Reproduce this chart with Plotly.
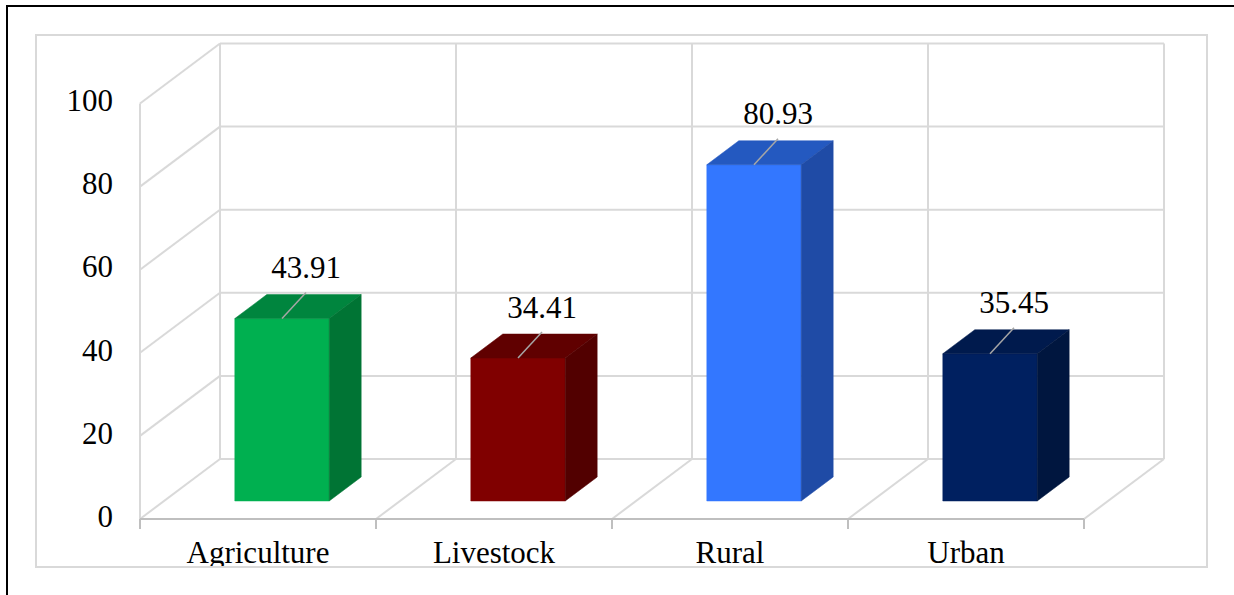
import plotly.graph_objects as go

# ---- data -------------------------------------------------------------
categories = ["Agriculture", "Livestock", "Rural", "Urban"]
values = [43.91, 34.41, 80.93, 35.45]
y_ticks = [0, 20, 40, 60, 80, 100]

front_colors = ["#00B050", "#800000", "#3377FF", "#002060"]
top_colors = ["#00853E", "#600000", "#2459C0", "#001A4D"]
side_colors = ["#007434", "#520000", "#1F4BA6", "#00163F"]

# ---- 3D-look projection (oblique view of a category/value/depth box) ----
W, H = 1234, 595
X0, Y0 = 140.0, 519.0      # front-left corner of the floor
CAT_W = 236.0              # width of one category slot
VAL_PX = 4.155             # vertical size of one value unit
DEPTH_DX, DEPTH_DY = 80.0, 60.0   # shift from front plane to back wall
BAR_LO, BAR_HI = 0.3, 0.7  # bar extent inside a slot (width and depth)
Y_MAX = 100

FONT = "Liberation Serif, Times New Roman, serif"
GRID = "#D9D9D9"
AXIS = "#BFBFBF"


def proj(c, v, d):
    """Map (category position, value, depth 0..1) to screen units."""
    return X0 + c * CAT_W + d * DEPTH_DX, Y0 - v * VAL_PX - d * DEPTH_DY


fig = go.Figure()


def add_line(points, color, width):
    xs = [p[0] for p in points]
    ys = [p[1] for p in points]
    fig.add_trace(go.Scatter(x=xs, y=ys, mode="lines",
                             line=dict(color=color, width=width),
                             hoverinfo="skip", showlegend=False))


def add_face(points, color):
    xs = [p[0] for p in points] + [points[0][0]]
    ys = [p[1] for p in points] + [points[0][1]]
    fig.add_trace(go.Scatter(x=xs, y=ys, mode="lines", fill="toself",
                             fillcolor=color, line=dict(color=color, width=0.5),
                             hoverinfo="skip", showlegend=False))


n = len(categories)

# back wall gridlines
for v in y_ticks:
    add_line([proj(0, v, 1), proj(n, v, 1)], GRID, 2)
for c in range(n + 1):
    add_line([proj(c, 0, 1), proj(c, Y_MAX, 1)], GRID, 2)
# side wall gridlines
for v in y_ticks:
    add_line([proj(0, v, 0), proj(0, v, 1)], GRID, 2)
add_line([proj(0, 0, 0), proj(0, Y_MAX, 0)], GRID, 2)
# floor depth lines
for c in range(1, n + 1):
    add_line([proj(c, 0, 0), proj(c, 0, 1)], GRID, 2)

# category axis line with tick marks
add_line([proj(0, 0, 0), proj(n, 0, 0)], AXIS, 2)
for c in range(n + 1):
    x, y = proj(c, 0, 0)
    add_line([(x, y), (x, y + 10)], AXIS, 2)

# bars: front, top and right side faces
for i, v in enumerate(values):
    l, r = i + BAR_LO, i + BAR_HI
    add_face([proj(l, 0, BAR_LO), proj(r, 0, BAR_LO),
              proj(r, v, BAR_LO), proj(l, v, BAR_LO)], front_colors[i])
    add_face([proj(l, v, BAR_LO), proj(r, v, BAR_LO),
              proj(r, v, BAR_HI), proj(l, v, BAR_HI)], top_colors[i])
    add_face([proj(r, 0, BAR_LO), proj(r, 0, BAR_HI),
              proj(r, v, BAR_HI), proj(r, v, BAR_LO)], side_colors[i])

# value labels with leader lines
LEAD_DX, LEAD_DY, LABEL_GAP = 24, -26, -22
lab_x, lab_y = [], []
for i, v in enumerate(values):
    x, y = proj(i + 0.5, v, BAR_LO)
    ex, ey = x + LEAD_DX, y + LEAD_DY
    add_line([(x, y), (ex, ey)], "#A6A6A6", 1.5)
    lab_x.append(ex)
    lab_y.append(ey + LABEL_GAP)
fig.add_trace(go.Scatter(x=lab_x, y=lab_y, mode="text",
                         text=[f"{v:.2f}" for v in values],
                         textposition="middle center",
                         textfont=dict(family=FONT, size=31, color="black"),
                         hoverinfo="skip", showlegend=False))

# value axis tick labels
fig.add_trace(go.Scatter(x=[113] * len(y_ticks),
                         y=[proj(0, t, 0)[1] for t in y_ticks],
                         mode="text", text=[str(t) for t in y_ticks],
                         textposition="middle left",
                         textfont=dict(family=FONT, size=31, color="black"),
                         hoverinfo="skip", showlegend=False))

# category labels
fig.add_trace(go.Scatter(x=[proj(i + 0.5, 0, 0)[0] for i in range(n)],
                         y=[555] * n, mode="text", text=categories,
                         textposition="middle center",
                         textfont=dict(family=FONT, size=31, color="black"),
                         hoverinfo="skip", showlegend=False))

shapes = [
    # chart area clips anything below its bottom edge
    dict(type="rect", xref="x", yref="y", x0=8, x1=W, y0=568, y1=H,
         fillcolor="white", line=dict(width=0), layer="above"),
    # chart area border
    dict(type="rect", xref="x", yref="y", x0=36, x1=1207, y0=35, y1=567,
         fillcolor="rgba(0,0,0,0)", line=dict(color=GRID, width=2), layer="above"),
    # outer frame
    dict(type="line", xref="x", yref="y", x0=7, x1=7, y0=6, y1=H,
         line=dict(color="black", width=2), layer="above"),
    dict(type="line", xref="x", yref="y", x0=6, x1=W, y0=6, y1=6,
         line=dict(color="black", width=2), layer="above"),
]

fig.update_layout(
    width=W, height=H,
    margin=dict(l=0, r=0, t=0, b=0),
    paper_bgcolor="white", plot_bgcolor="white",
    xaxis=dict(range=[0, W], visible=False, fixedrange=True),
    yaxis=dict(range=[H, 0], visible=False, fixedrange=True),
    shapes=shapes,
    showlegend=False,
)

fig.write_html("out.html")
